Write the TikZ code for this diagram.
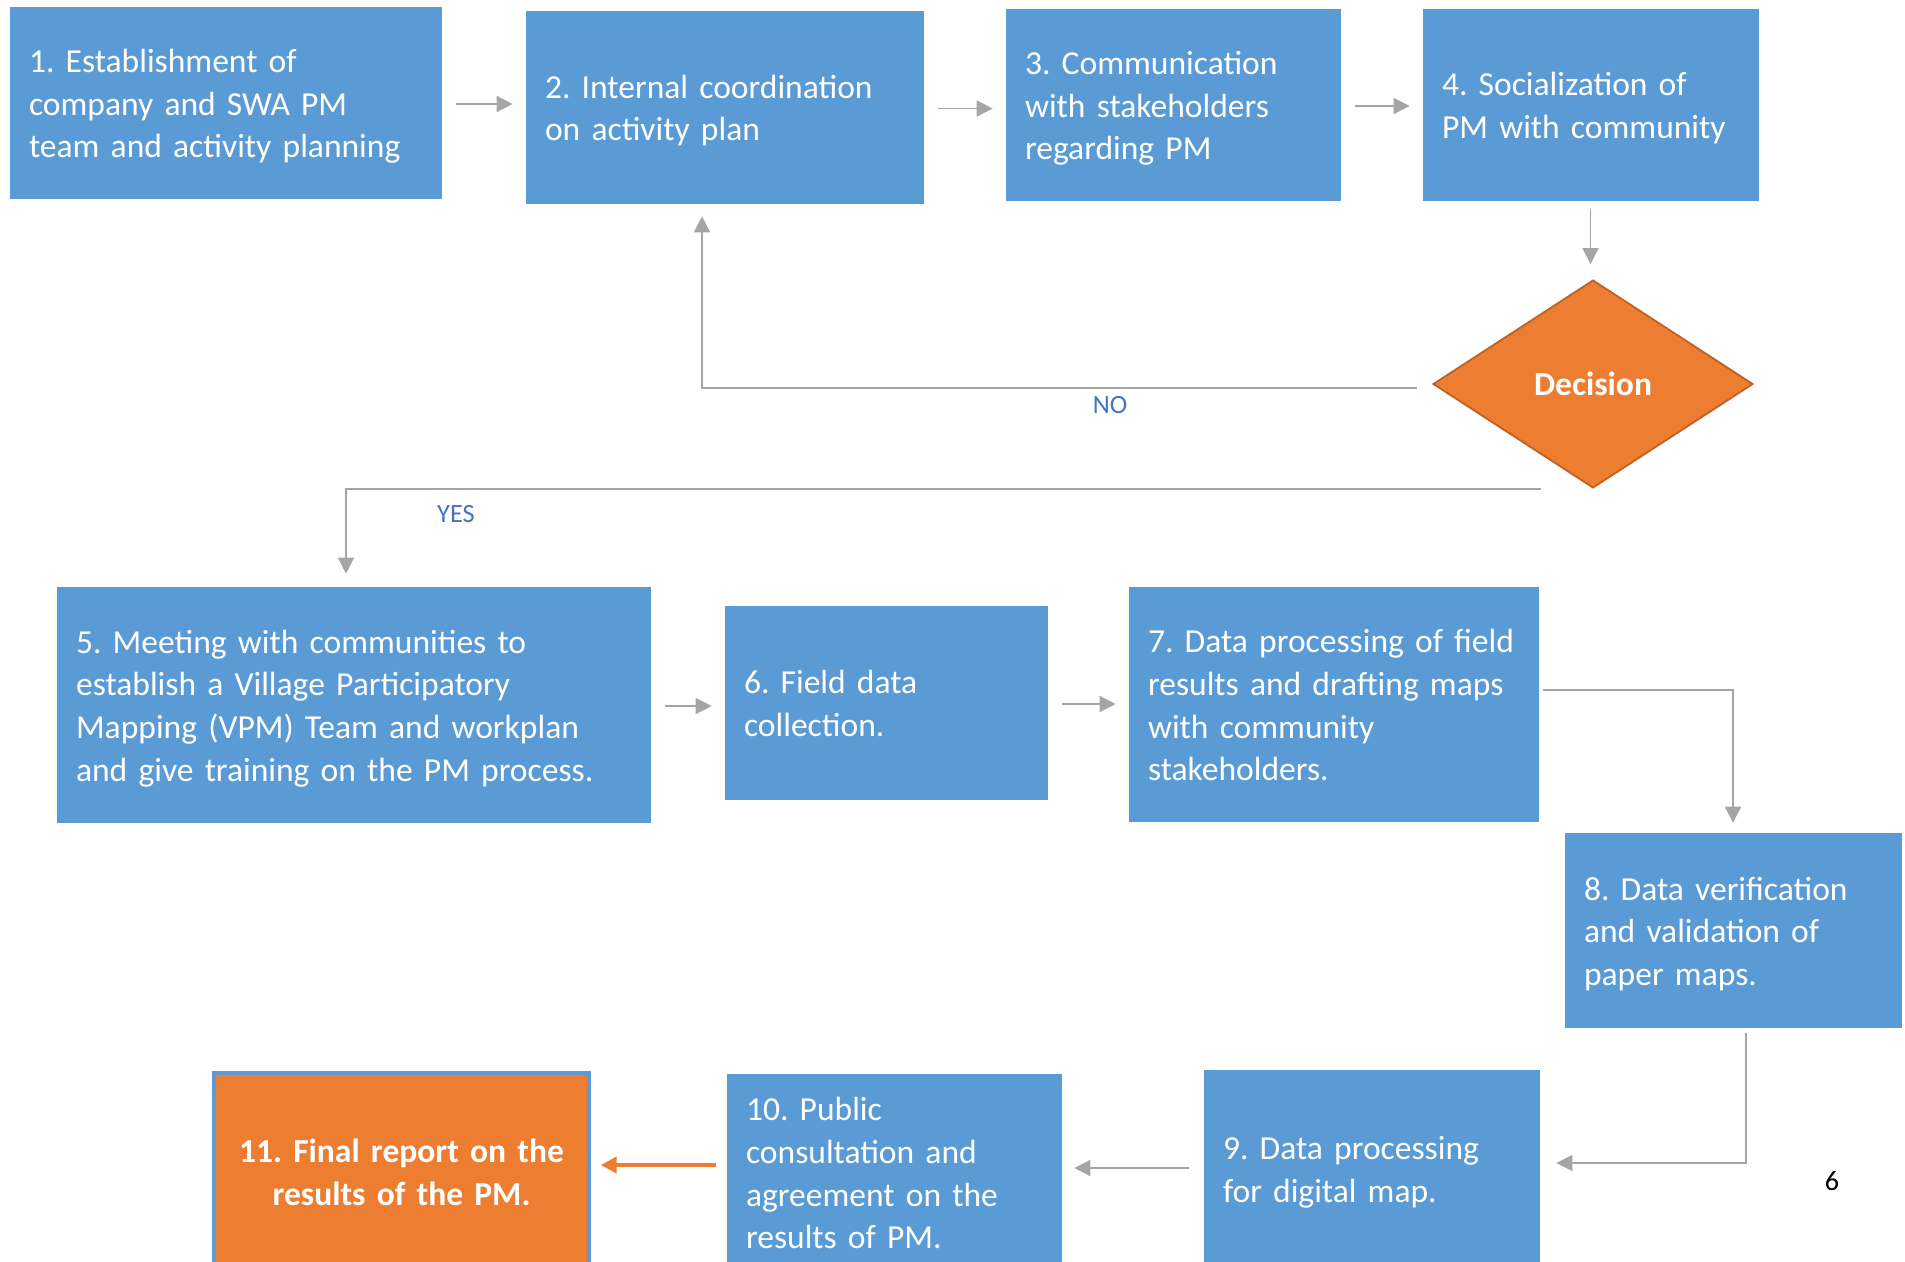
\documentclass[tikz,border=0pt]{standalone}
\usepackage{fontspec}
\setmainfont{Carlito}
\usepackage{tikz}
\usetikzlibrary{arrows.meta,positioning,calc,shapes.geometric}
\definecolor{StepBlue}{RGB}{91,155,213}
\definecolor{StepOrange}{RGB}{237,125,49}
\definecolor{EdgeOrange}{RGB}{190,95,35}
\definecolor{LinkGray}{RGB}{165,165,165}
\definecolor{LabBlue}{RGB}{68,114,196}
\frenchspacing
\newcommand{\stepfont}{\fontsize{19.1}{24.2}\selectfont\hyphenpenalty=10000\exhyphenpenalty=10000}

\begin{document}
\begin{tikzpicture}[x=0.02cm,y=-0.02cm,
  stepbox/.style={draw=StepBlue,fill=StepBlue,text=white,align=left,inner xsep=0.38cm,inner ysep=0pt,font=\stepfont,
                  execute at begin node={\rule{0pt}{18.5pt}},execute at end node={\rule[-4pt]{0pt}{4pt}}},
  decide/.style={diamond,draw=EdgeOrange,line width=1pt,fill=StepOrange,text=white,inner sep=0pt,
                 minimum width=6.4cm,minimum height=4.16cm,font=\stepfont\bfseries},
  conn/.style={draw=LinkGray,line width=0.8pt,-{Triangle[length=0.32cm,width=0.32cm]},shorten <=0.3cm,shorten >=0.26cm},
  lab/.style={text=LabBlue,font=\fontsize{15}{18}\selectfont}]
  \useasboundingbox (0,0) rectangle (1905,1261);
  \clip (0,0) rectangle (1905,1261);
  % top row
  \node[stepbox,minimum width=8.62cm,minimum height=3.82cm,text width=7.86cm] (b1) at (225.5,102.5)
    {1. Establishment of\\company and SWA PM\\team and activity planning};
  \node[stepbox,minimum width=7.94cm,minimum height=3.84cm,text width=7.18cm] (b2) at (724.5,107)
    {2. Internal coordination\\on activity plan};
  \node[stepbox,minimum width=6.68cm,minimum height=3.82cm,text width=5.92cm] (b3) at (1173,104.5)
    {3. Communication\\with stakeholders\\regarding PM};
  \node[stepbox,minimum width=6.70cm,minimum height=3.82cm,text width=5.94cm] (b4) at (1590.5,104.5)
    {4. Socialization of\\PM with community};
  \node[decide] (dec) at (1593,384) {Decision};
  % middle row
  \node[stepbox,minimum width=11.86cm,minimum height=4.70cm,text width=11.10cm] (b5) at (353.5,704.5)
    {5. Meeting with communities to\\establish a Village Participatory\\Mapping (VPM) Team and workplan\\and give training on the PM process.};
  \node[stepbox,minimum width=6.44cm,minimum height=3.86cm,text width=5.68cm] (b6) at (886,702.5)
    {6. Field data\\collection.};
  \node[stepbox,minimum width=8.18cm,minimum height=4.68cm,text width=7.42cm] (b7) at (1333.5,704)
    {7. Data processing of field\\results and drafting maps\\with community\\stakeholders.};
  \node[stepbox,minimum width=6.72cm,minimum height=3.88cm,text width=5.96cm] (b8) at (1733,930)
    {8. Data verification\\and validation of\\paper maps.};
  % bottom row
  \node[stepbox,minimum width=6.70cm,minimum height=3.92cm,text width=5.94cm] (b9) at (1371.5,1168)
    {9. Data processing\\for digital map.};
  \node[stepbox,minimum width=6.68cm,minimum height=3.92cm,text width=5.92cm] (b10) at (894,1172)
    {10. Public\\consultation and\\agreement on the\\results of PM.};
  \node[stepbox,fill=StepOrange,line width=2pt,align=center,font=\stepfont\bfseries,
        minimum width=7.50cm,minimum height=3.92cm,text width=6.74cm] (b11) at (401.5,1171)
    {11. Final report on the\\results of the PM.};
  \node[font=\fontsize{16}{19}\selectfont] (pnum) at (1832,1181) {6};

  \foreach \a/\b in {b1/b2,b2/b3,b3/b4,b5/b6,b6/b7}
    \draw[conn] ([yshift=-0.03cm]\a.east) -- ([yshift=-0.03cm]\a.east -| \b.west);
  \draw[conn,shorten <=0.18cm,shorten >=0.3cm] (b4.south) -- (b4.south |- dec.north);
  \draw[conn] ([yshift=-0.08cm]dec.west) -| ([xshift=-0.45cm]b2.south);
  \node[lab] (nolab) at (1110,405) {NO};
  \coordinate (yesfrom) at ([xshift=-1.04cm]dec.south);
  \draw[conn,shorten <=0pt] (yesfrom) -| ([xshift=-0.15cm]b5.north);
  \node[lab] (yeslab) at (456,514) {YES};
  \draw[conn,shorten <=0.1cm,shorten >=0.2cm] ([yshift=0.28cm]b7.east) -| (b8.north);
  \draw[conn,shorten <=0.12cm,shorten >=0.34cm] ([xshift=0.26cm]b8.south) |- ([yshift=0.1cm]b9.east);
  \draw[conn] (b9.west) -- (b9.west -| b10.east);
  \draw[conn,draw=StepOrange,line width=2.3pt,shorten <=0.22cm,shorten >=0.2cm]
    ([yshift=0.14cm]b10.west) -- ([yshift=0.14cm]b10.west -| b11.east);
\end{tikzpicture}
\end{document}
